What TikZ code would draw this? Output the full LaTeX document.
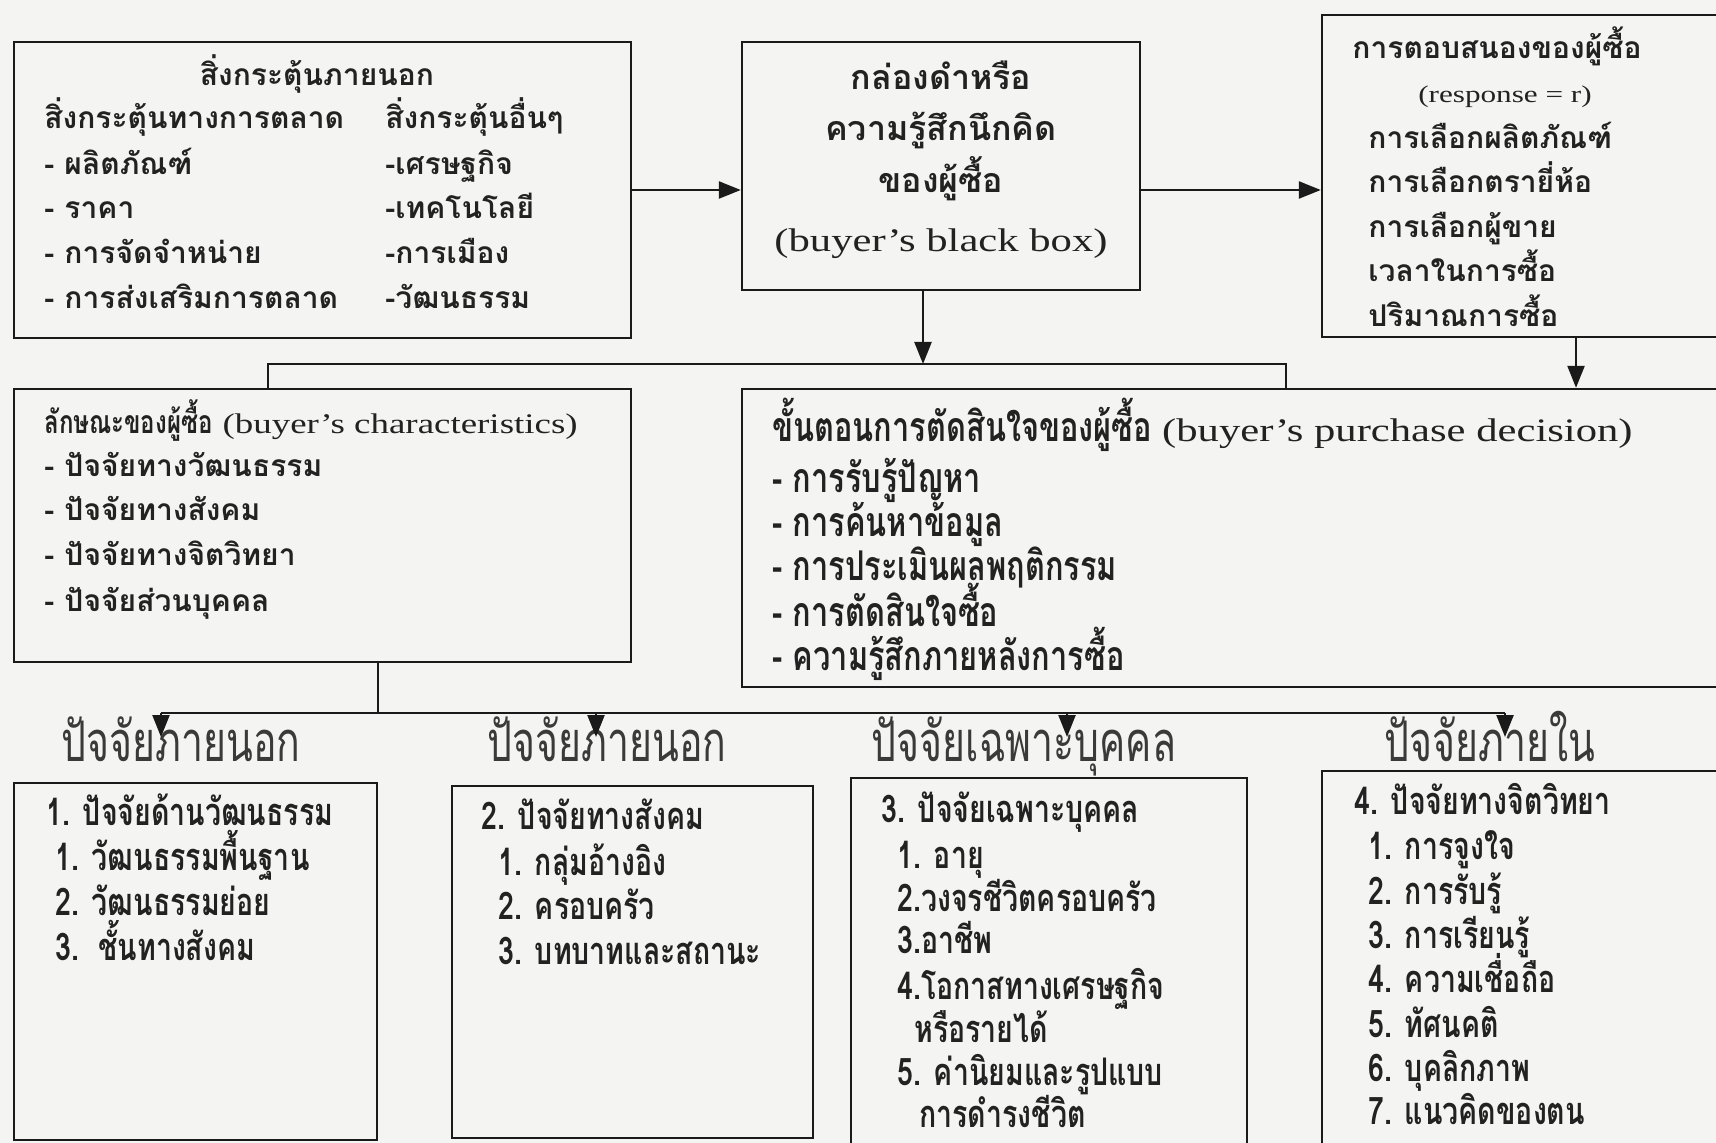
\documentclass[tikz,border=0pt]{standalone}
\usepackage{fontspec}
\setmainfont{Liberation Serif}
\newfontfamily\thaiF[Script=Thai]{Loma}
\newfontfamily\thaiN[Script=Thai,FakeStretch=0.75]{Loma}
\newfontfamily\thaiH[Script=Thai,FakeStretch=0.7]{Loma}
\newfontfamily\enF[FakeStretch=1.3]{Liberation Serif}
\usetikzlibrary{arrows.meta,fit}
\definecolor{bgc}{HTML}{F4F4F2}
\definecolor{linec}{HTML}{1A1A1A}
\definecolor{txtc}{HTML}{222222}
\definecolor{headc}{HTML}{3A3A3A}
\tikzset{
  box/.style={draw=linec, line width=1.2pt, inner sep=0pt},
  arr/.style={draw=linec, line width=1.2pt, -{Triangle[length=11pt,width=8.5pt]}},
  bus/.style={draw=linec, line width=1.2pt},
  txt/.style={anchor=base west, inner sep=0pt, text=txtc,
    font=\thaiF\bfseries\fontsize{15}{18}\selectfont},
  ctxt/.style={txt, anchor=base},
  ntxt/.style={anchor=base west, inner sep=0pt, text=txtc,
    font=\thaiN\bfseries\fontsize{19}{22}\selectfont},
  dtxt/.style={ntxt, font=\thaiN\bfseries\fontsize{20.5}{24}\selectfont},
  head/.style={anchor=base, inner sep=0pt, text=headc,
    font=\thaiH\fontsize{28}{32}\selectfont},
}
\begin{document}
\begin{tikzpicture}[x=0.5pt,y=-0.5pt]
\useasboundingbox (0,0) rectangle (1716,1143);
\clip (0,0) rectangle (1716,1143);
\fill[bgc] (0,0) rectangle (1716,1143);

% ---- boxes ----
\node[box, fit={(14,42) (631,338)}] (stim) {};
\node[box, fit={(742,42) (1140,290)}] (bbox) {};
\node[box, fit={(1322,15) (1730,337)}] (resp) {};
\node[box, fit={(14,389) (631,662)}] (char) {};
\node[box, fit={(742,389) (1730,687)}] (dec) {};
\node[box, fit={(14,783) (377,1140)}] (f1) {};
\node[box, fit={(452,786) (813,1138)}] (f2) {};
\node[box, fit={(851,778) (1247,1160)}] (f3) {};
\node[box, fit={(1322,771) (1730,1160)}] (f4) {};

% ---- external stimuli ----
\node[ctxt] (s0) at (317,86) {สิ่งกระตุ้นภายนอก};
\node[txt] (s1) at (44,129) {สิ่งกระตุ้นทางการตลาด};
\node[txt] (s2) at (385,129) {สิ่งกระตุ้นอื่นๆ};
\node[txt] (s3) at (44,175) {- ผลิตภัณฑ์};
\node[txt] (s4) at (44,219) {- ราคา};
\node[txt] (s5) at (44,264) {- การจัดจำหน่าย};
\node[txt] (s6) at (44,309) {- การส่งเสริมการตลาด};
\node[txt] (s7) at (385,175) {-เศรษฐกิจ};
\node[txt] (s8) at (385,219) {-เทคโนโลยี};
\node[txt] (s9) at (385,264) {-การเมือง};
\node[txt] (s10) at (385,309) {-วัฒนธรรม};

% ---- black box ----
\node[ctxt, font=\thaiF\bfseries\fontsize{17}{20}\selectfont] (k1) at (941,90) {กล่องดำหรือ};
\node[ctxt, font=\thaiF\bfseries\fontsize{17}{20}\selectfont] (k2) at (941,141) {ความรู้สึกนึกคิด};
\node[ctxt, font=\thaiF\bfseries\fontsize{17}{20}\selectfont] (k3) at (941,193) {ของผู้ซื้อ};
\node[ctxt, font=\enF\fontsize{16.4}{19}\selectfont] (k4) at (941,252) {(buyer’s black box)};

% ---- response ----
\node[txt] (r0) at (1352,59) {การตอบสนองของผู้ซื้อ};
\node[ctxt, font=\enF\fontsize{12}{14}\selectfont] (r1) at (1505,103) {(response = r)};
\node[txt] (r2) at (1368,149) {การเลือกผลิตภัณฑ์};
\node[txt] (r3) at (1368,193) {การเลือกตรายี่ห้อ};
\node[txt] (r4) at (1368,238) {การเลือกผู้ขาย};
\node[txt] (r5) at (1368,282) {เวลาในการซื้อ};
\node[txt] (r6) at (1368,327) {ปริมาณการซื้อ};

% ---- buyer characteristics ----
\node[txt] (c0) at (44,434) {{\thaiN\bfseries\fontsize{16}{19}\selectfont ลักษณะของผู้ซื้อ} {\enF\mdseries\fontsize{14.2}{17}\selectfont (buyer’s characteristics)}};
\node[txt] (c1) at (44,477) {- ปัจจัยทางวัฒนธรรม};
\node[txt] (c2) at (44,521) {- ปัจจัยทางสังคม};
\node[txt] (c3) at (44,566) {- ปัจจัยทางจิตวิทยา};
\node[txt] (c4) at (44,611) {- ปัจจัยส่วนบุคคล};

% ---- purchase decision ----
\node[dtxt] (d0) at (772,442) {ขั้นตอนการตัดสินใจของผู้ซื้อ {\enF\mdseries\fontsize{16.4}{19}\selectfont (buyer’s purchase decision)}};
\node[dtxt] (d1) at (772,493) {- การรับรู้ปัญหา};
\node[dtxt] (d2) at (772,537) {- การค้นหาข้อมูล};
\node[dtxt] (d3) at (772,581) {- การประเมินผลพฤติกรรม};
\node[dtxt] (d4) at (772,626) {- การตัดสินใจซื้อ};
\node[dtxt] (d5) at (772,670) {- ความรู้สึกภายหลังการซื้อ};

% ---- headings ----
\node[head] (h1) at (181,761) {ปัจจัยภายนอก};
\node[head] (h2) at (607,761) {ปัจจัยภายนอก};
\node[head] (h3) at (1024,761) {ปัจจัยเฉพาะบุคคล};
\node[head] (h4) at (1490,761) {ปัจจัยภายใน};

% ---- factor boxes ----
\node[ntxt] (a0) at (46,825) {1. ปัจจัยด้านวัฒนธรรม};
\node[ntxt] (a1) at (55,870) {1. วัฒนธรรมพื้นฐาน};
\node[ntxt] (a2) at (55,915) {2. วัฒนธรรมย่อย};
\node[ntxt] (a3) at (55,960) {3.\ \ ชั้นทางสังคม};

\node[ntxt] (b0) at (481,829) {2. ปัจจัยทางสังคม};
\node[ntxt] (b1) at (498,875) {1. กลุ่มอ้างอิง};
\node[ntxt] (b2) at (498,919) {2. ครอบครัว};
\node[ntxt] (b3) at (498,964) {3. บทบาทและสถานะ};

\node[ntxt] (p0) at (881,822) {3. ปัจจัยเฉพาะบุคคล};
\node[ntxt] (p1) at (897,868) {1. อายุ};
\node[ntxt] (p2) at (897,911) {2.วงจรชีวิตครอบครัว};
\node[ntxt] (p3) at (897,953) {3.อาชีพ};
\node[ntxt] (p4) at (897,999) {4.โอกาสทางเศรษฐกิจ};
\node[ntxt] (p5) at (914,1042) {หรือรายได้};
\node[ntxt] (p6) at (897,1085) {5. ค่านิยมและรูปแบบ};
\node[ntxt] (p7) at (919,1127) {การดำรงชีวิต};

\node[ntxt] (q0) at (1354,814) {4. ปัจจัยทางจิตวิทยา};
\node[ntxt] (q1) at (1368,859) {1. การจูงใจ};
\node[ntxt] (q2) at (1368,904) {2. การรับรู้};
\node[ntxt] (q3) at (1368,948) {3. การเรียนรู้};
\node[ntxt] (q4) at (1368,992) {4. ความเชื่อถือ};
\node[ntxt] (q5) at (1368,1037) {5. ทัศนคติ};
\node[ntxt] (q6) at (1368,1081) {6. บุคลิกภาพ};
\node[ntxt] (q7) at (1368,1124) {7. แนวคิดของตน};

% ---- connectors ----
\draw[arr] (stim.east) -- (stim.east -| bbox.west);
\draw[arr] (bbox.east |- stim.east) -- (resp.west |- stim.east);

\coordinate (j1) at (923,364);
\coordinate (busL) at (268,364);
\coordinate (busR) at (1286,364);
\draw[arr] (bbox.south -| j1) -- (j1);
\draw[bus] (char.north -| busL) -- (busL) -- (busR) -- (dec.north -| busR);

\coordinate (rx) at (1576,0);
\draw[arr] (resp.south -| rx) -- (dec.north -| rx);

\coordinate (j2) at (378,713);
\coordinate (t1) at (161,737);
\coordinate (t2) at (596,737);
\coordinate (t3) at (1067,737);
\coordinate (t4) at (1505,737);
\draw[bus] (char.south -| j2) -- (j2);
\draw[bus] (t1 |- j2) -- (t4 |- j2);
\foreach \t in {t1,t2,t3,t4} \draw[arr] (\t |- j2) -- (\t);
\end{tikzpicture}
\end{document}
